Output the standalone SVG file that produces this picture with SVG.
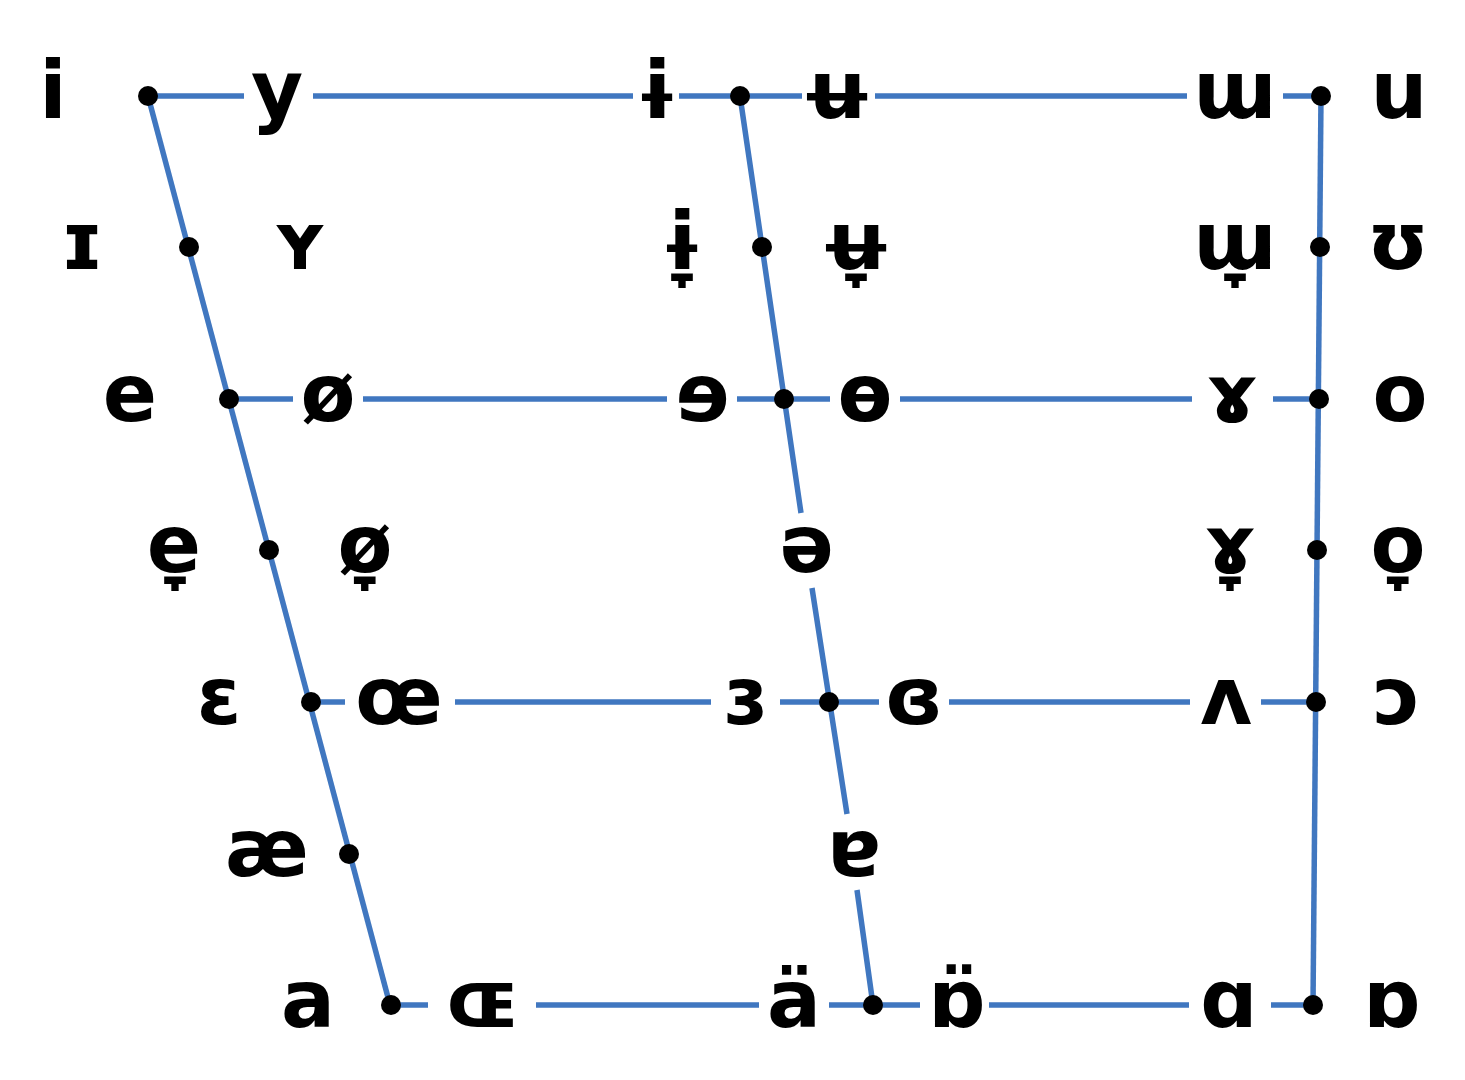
<svg xmlns="http://www.w3.org/2000/svg" width="1465" height="1080" viewBox="0 0 1465 1080">
<style>
.ln{stroke:#4077C0;stroke-width:5.5;fill:none;stroke-linecap:butt}
.v{font-family:"DejaVu Sans","Noto Sans",sans-serif;font-weight:bold;font-size:80px;fill:#000;text-anchor:middle}
.pt{fill:#000}
</style>
<rect width="1465" height="1080" fill="#fff"/>
<g id="connectors">
<path class="ln" d="M148,96H244M313,96H633M679,96H802M875,96H1187M1283,96H1321"/>
<path class="ln" d="M229,399H293M363,399H667M737,399H830M900,399H1192M1273,399H1319"/>
<path class="ln" d="M311,702H345M455,702H711M780,702H879M949,702H1190M1261,702H1316"/>
<path class="ln" d="M391,1005H428M536,1005H759M829,1005H920M989,1005H1189M1271,1005H1313"/>
<path class="ln" d="M148,96L390,1005"/>
<path class="ln" d="M740,96L801,513M812,588L847,814M857,890L873,1005"/>
<path class="ln" d="M1321,96L1313,1005"/>
</g>
<g id="points">
<circle class="pt" cx="148" cy="96" r="10"/><circle class="pt" cx="740" cy="96" r="10"/><circle class="pt" cx="1321" cy="96" r="10"/>
<circle class="pt" cx="189" cy="247" r="10"/><circle class="pt" cx="762" cy="247" r="10"/><circle class="pt" cx="1320" cy="247" r="10"/>
<circle class="pt" cx="229" cy="399" r="10"/><circle class="pt" cx="784" cy="399" r="10"/><circle class="pt" cx="1319" cy="399" r="10"/>
<circle class="pt" cx="269" cy="550" r="10"/><circle class="pt" cx="1317" cy="550" r="10"/>
<circle class="pt" cx="311" cy="702" r="10"/><circle class="pt" cx="829" cy="702" r="10"/><circle class="pt" cx="1316" cy="702" r="10"/>
<circle class="pt" cx="349" cy="854" r="10"/>
<circle class="pt" cx="391" cy="1005" r="10"/><circle class="pt" cx="873" cy="1005" r="10"/><circle class="pt" cx="1313" cy="1005" r="10"/>
</g>
<g id="v-i"><text class="v" x="53" y="118">i</text></g>
<g id="v-y"><text class="v" x="277" y="118">y</text></g>
<g id="v-barred-i"><text class="v" x="657" y="118">ɨ</text></g>
<g id="v-barred-u"><text class="v" x="837" y="118">ʉ</text></g>
<g id="v-turned-m"><text class="v" x="1235" y="118">ɯ</text></g>
<g id="v-u"><text class="v" x="1399" y="118">u</text></g>
<g id="v-small-cap-i"><text class="v" x="82" y="269">ɪ</text></g>
<g id="v-small-cap-y"><text class="v" x="300" y="269">ʏ</text></g>
<g id="v-barred-i-lowered"><text class="v" x="682" y="269">ɨ̞</text></g>
<g id="v-barred-u-lowered"><text class="v" x="856" y="269">ʉ̞</text></g>
<g id="v-turned-m-lowered"><text class="v" x="1235" y="269">ɯ̞</text></g>
<g id="v-upsilon"><text class="v" x="1398" y="269">ʊ</text></g>
<g id="v-e"><text class="v" x="130" y="421">e</text></g>
<g id="v-o-slash"><text class="v" x="328" y="421">ø</text></g>
<g id="v-reversed-e"><text class="v" x="703" y="421">ɘ</text></g>
<g id="v-barred-o"><text class="v" x="865" y="421">ɵ</text></g>
<g id="v-rams-horn"><text class="v" x="1232" y="421">ɤ</text></g>
<g id="v-o"><text class="v" x="1400" y="421">o</text></g>
<g id="v-e-lowered"><text class="v" x="174" y="572">e̞</text></g>
<g id="v-o-slash-lowered"><text class="v" x="365" y="572">ø̞</text></g>
<g id="v-schwa"><text class="v" x="807" y="572">ə</text></g>
<g id="v-rams-horn-lowered"><text class="v" x="1230" y="572">ɤ̞</text></g>
<g id="v-o-lowered"><text class="v" x="1398" y="572">o̞</text></g>
<g id="v-epsilon"><text class="v" x="219" y="724">ɛ</text></g>
<g id="v-oe"><text class="v" x="399" y="724">œ</text></g>
<g id="v-reversed-epsilon"><text class="v" x="745" y="724">ɜ</text></g>
<g id="v-closed-reversed-epsilon"><text class="v" x="914" y="724">ɞ</text></g>
<g id="v-turned-v"><text class="v" x="1226" y="724">ʌ</text></g>
<g id="v-open-o"><text class="v" x="1397" y="724">ɔ</text></g>
<g id="v-ash"><text class="v" x="267" y="876">æ</text></g>
<g id="v-turned-a"><text class="v" x="854" y="876">ɐ</text></g>
<g id="v-a"><text class="v" x="308" y="1027">a</text></g>
<g id="v-small-cap-oe"><text class="v" x="483" y="1027">ɶ</text></g>
<g id="v-a-centralized"><text class="v" x="794" y="1027">ä</text></g>
<g id="v-turned-alpha-centralized"><text class="v" x="957" y="1027">ɒ̈</text></g>
<g id="v-alpha"><text class="v" x="1229" y="1027">ɑ</text></g>
<g id="v-turned-alpha"><text class="v" x="1392" y="1027">ɒ</text></g>
</svg>
